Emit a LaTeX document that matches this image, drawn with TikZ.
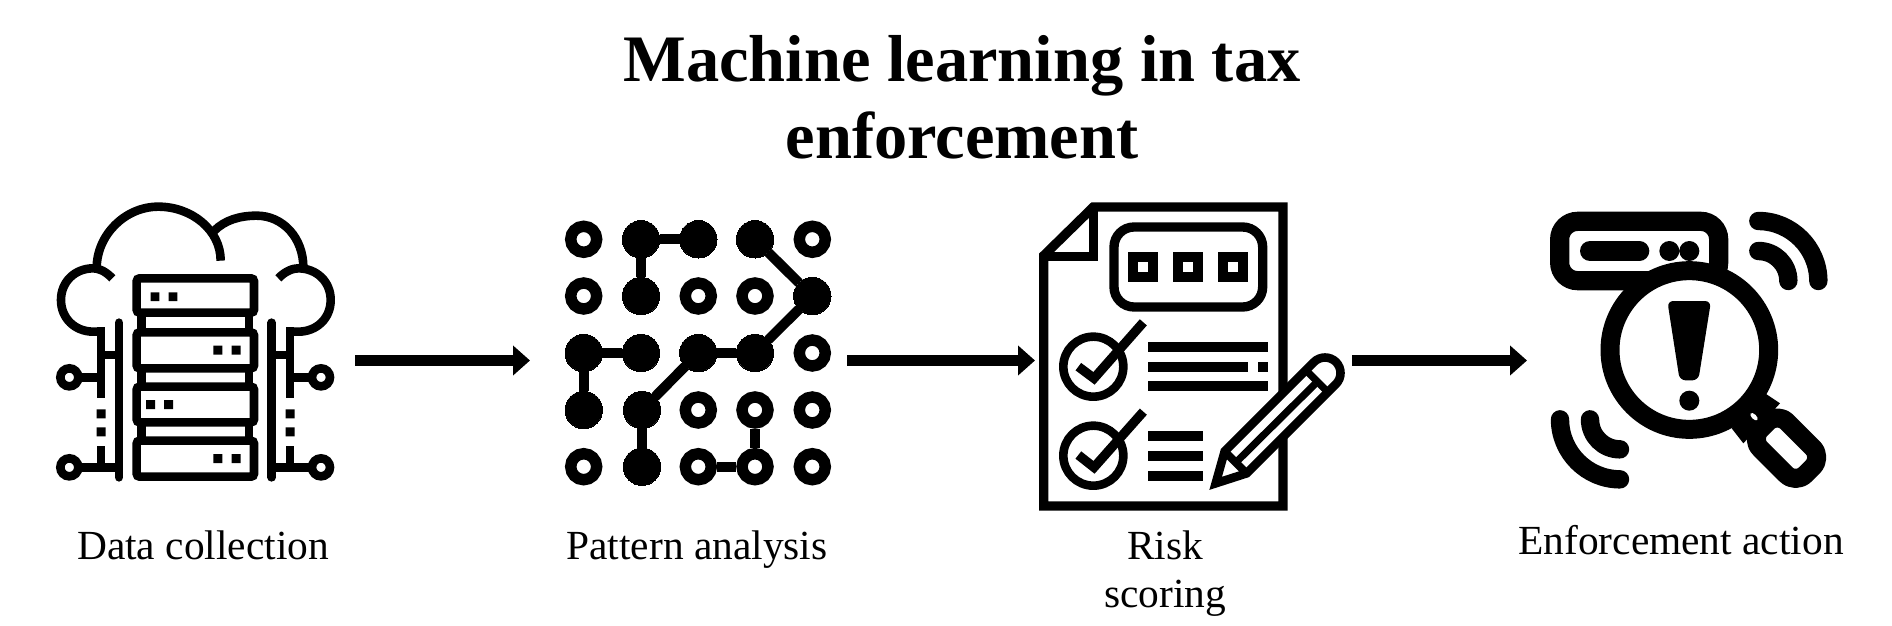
\documentclass[tikz,border=0pt]{standalone}
\usepackage{fontspec}
\setmainfont{Liberation Serif}
\usetikzlibrary{arrows.meta}
\tikzset{
  ink/.style={draw=black,line cap=butt,line join=miter},
  flow/.style={draw=black,line width=5.9pt,-{Triangle[length=8.5pt,width=14.5pt]}},
  lbl/.style={anchor=base,align=center,font=\fontsize{20.7}{24}\selectfont,inner sep=0pt},
  ttl/.style={anchor=base,font=\bfseries\fontsize{33.2}{38}\selectfont,inner sep=0pt},
  openc/.style={circle,draw=black,fill=white,line width=5.7pt,minimum size=13pt,inner sep=0pt},
  fullc/.style={circle,draw=black,fill=black,line width=0pt,minimum size=18.7pt,inner sep=0pt},
  link/.style={draw=black,line width=5pt},
  sq/.style={fill=black},
}
\begin{document}
\begin{tikzpicture}[x=0.5pt,y=-0.5pt]
\useasboundingbox (0,0) rectangle (1892,626);
% Title
\node[ttl] (t1) at (962,82) {Machine learning in tax};
\node[ttl] (t2) at (962,159) {enforcement};
% Labels
\node[lbl] (l1) at (203,559) {Data collection};
\node[lbl] (l2) at (697,559) {Pattern analysis};
\node[lbl] (l3a) at (1165,559) {Risk};
\node[lbl] (l3b) at (1165,607) {scoring};
\node[lbl] (l4) at (1681,554) {Enforcement action};
% Arrows
\coordinate (a1s) at (355,360.5); \coordinate (a1e) at (530,360.5);
\coordinate (a2s) at (847,360.5); \coordinate (a2e) at (1035,360.5);
\coordinate (a3s) at (1352,360.5); \coordinate (a3e) at (1527,360.5);
\draw[flow] (a1s) -- (a1e);
\draw[flow] (a2s) -- (a2e);
\draw[flow] (a3s) -- (a3e);

% ---------- Icon 1 : cloud + servers (origin 30,180, 3x)
\begin{scope}[shift={(30,180)},x=0.16667pt,y=-0.16667pt]
  \begin{scope}[ink,line width=4.3pt]
    \draw (335,398)--(335,457) (657,398)--(657,457);
    \draw (335,565)--(335,620) (657,565)--(657,620);
    \draw (335,727)--(335,782) (657,727)--(657,782);
    \draw[rounded corners=1.5pt] (320,295) -- (672,295) -- (672,398) -- (320,398) -- cycle;
    \draw[rounded corners=1.5pt] (320,457) -- (672,457) -- (672,565) -- (320,565) -- cycle;
    \draw[rounded corners=1.5pt] (320,620) -- (672,620) -- (672,727) -- (320,727) -- cycle;
    \draw[rounded corners=1.5pt] (320,782) -- (672,782) -- (672,890) -- (320,890) -- cycle;
    % cloud
    \draw (247,295) .. controls (225,272) and (205,265) .. (190,265)
          .. controls (135,265) and (93,305) .. (93,360)
          .. controls (93,415) and (135,455) .. (190,455) -- (213,455);
    \draw (200,265) .. controls (200,165) and (285,80) .. (385,80)
          .. controls (485,80) and (572,150) .. (572,242);
    \draw (553,152) .. controls (585,120) and (630,107) .. (680,107)
          .. controls (760,107) and (820,175) .. (820,262);
    \draw (745,295) .. controls (767,272) and (790,265) .. (805,265)
          .. controls (860,265) and (902,305) .. (902,360)
          .. controls (902,415) and (860,455) .. (805,455) -- (780,455);
    % left bus
    \draw[line cap=round] (267,428) -- (267,892);
    \draw (213,442) -- (213,655);
    \draw (213,525) -- (267,525);
    \draw (145,592) -- (213,592);
    \draw (213,798) -- (213,862);
    \draw (145,862) -- (267,862);
    % right bus
    \draw[line cap=round] (725,428) -- (725,892);
    \draw (780,442) -- (780,655);
    \draw (725,525) -- (780,525);
    \draw (780,592) -- (846,592);
    \draw (780,798) -- (780,862);
    \draw (725,862) -- (846,862);
    % terminals
    \draw (118,592) circle[radius=27];
    \draw (118,862) circle[radius=27];
    \draw (873,592) circle[radius=27];
    \draw (873,862) circle[radius=27];
  \end{scope}
  \fill[sq] (200,688) rectangle (227,715) (200,742) rectangle (227,769);
  \fill[sq] (767,688) rectangle (794,715) (767,742) rectangle (794,769);
  \fill[sq] (362,337) rectangle (388,363) (416,337) rectangle (442,363);
  \fill[sq] (550,497) rectangle (577,524) (605,497) rectangle (632,524);
  \fill[sq] (348,660) rectangle (375,687) (402,660) rectangle (429,687);
  \fill[sq] (550,822) rectangle (577,849) (605,822) rectangle (632,849);
\end{scope}

% ---------- Icon 2 : node grid (px coordinates)
\node[openc] (g00) at (583.7,239.3) {};
\node[fullc] (g10) at (641,239.3) {};
\node[fullc] (g20) at (698.3,239.3) {};
\node[fullc] (g30) at (755,239.3) {};
\node[openc] (g40) at (812.3,239.3) {};
\node[openc] (g01) at (583.7,296) {};
\node[fullc] (g11) at (641,296) {};
\node[openc] (g21) at (698.3,296) {};
\node[openc] (g31) at (755,296) {};
\node[fullc] (g41) at (812.3,296) {};
\node[fullc] (g02) at (583.7,353) {};
\node[fullc] (g12) at (641,353) {};
\node[fullc] (g22) at (698.3,353) {};
\node[fullc] (g32) at (755,353) {};
\node[openc] (g42) at (812.3,353) {};
\node[fullc] (g03) at (583.7,410) {};
\node[fullc] (g13) at (642,410) {};
\node[openc] (g23) at (698.3,410) {};
\node[openc] (g33) at (755,410) {};
\node[openc] (g43) at (812.3,410) {};
\node[openc] (g04) at (583.7,466.7) {};
\node[fullc] (g14) at (642,466.7) {};
\node[openc] (g24) at (698.3,466.7) {};
\node[openc] (g34) at (755,466.7) {};
\node[openc] (g44) at (812.3,466.7) {};
\draw[link] (g10)--(g20);
\draw[link] (g10)--(g11);
\draw[link] (g30)--(g41);
\draw[link] (g41)--(g32);
\draw[link] (g02)--(g12);
\draw[link] (g02)--(g03);
\draw[link] (g22)--(g32);
\draw[link] (g22)--(g13);
\draw[link] (g13)--(g14);
\draw[link] (g33)--(g34);
\draw[link] (g24)--(g34);

% ---------- Icon 3 : document (origin 1020,190, 3x)
\begin{scope}[shift={(1020,190)},x=0.16667pt,y=-0.16667pt]
  \begin{scope}[ink,line width=4.67pt]
    \draw (220,51) -- (789,51) -- (789,948) -- (71,948) -- (71,197) -- cycle;
    \draw (220,51) -- (220,200) -- (71,200);
    \draw[rounded corners=10pt] (282,111) rectangle (728,351);
  \end{scope}
  \draw[ink,line width=5pt] (340,201) rectangle (400,261);
  \draw[ink,line width=5pt] (474,201) rectangle (534,261);
  \draw[ink,line width=5pt] (609,201) rectangle (669,261);
  \begin{scope}[ink,line width=4.3pt]
    \draw (220,530) circle[radius=90];
    \draw (220,797) circle[radius=90];
  \end{scope}
  \begin{scope}[ink,line width=4.67pt]
    \draw (175,530) -- (222,565) -- (370,397);
    \draw (175,795) -- (222,832) -- (370,665);
  \end{scope}
  \begin{scope}[ink,line width=5pt]
    \draw (385,470) -- (744,470);
    \draw (385,530) -- (684,530);
    \draw (714,530) -- (744,530);
    \draw (385,589) -- (744,589);
    \draw (385,737) -- (549,737);
    \draw (385,797) -- (549,797);
    \draw (385,857) -- (549,857);
  \end{scope}
  % pencil
  \draw[draw=black,fill=white,line width=4.3pt,miter limit=10]
     (587,880) -- (614,784) -- (882,516)
     .. controls (900,498) and (930,498) .. (948,516)
     .. controls (966,534) and (966,564) .. (948,582)
     -- (680,850) -- cycle;
  \draw[ink,line width=3.6pt] (650,815) -- (885,582);
  \draw[ink,line width=3.6pt] (865,548) -- (922,605);
  \draw[ink,line width=4pt] (614,784) -- (680,850);
\end{scope}

% ---------- Icon 4 : magnifier (origin 1530,200, 3x)
\begin{scope}[shift={(1530,200)},x=0.16667pt,y=-0.16667pt]
  \draw[ink,line width=9.6pt,rounded corners=9pt] (89,64) rectangle (566,242);
  \draw[line width=10pt,line cap=round] (180,153) -- (328,153);
  \fill (418,153) circle[radius=30] (478,153) circle[radius=30];
  % handle
  \draw[draw=black,fill=white,line width=9.5pt,line join=round,rounded corners=6.7pt]
     (742,637) -- (877,772) -- (797,852) -- (662,717) -- cycle;
  \fill (705,580) -- (750,610) -- (640,730) -- (605,685) -- cycle;
  % lens
  \draw[ink,fill=white,line width=9.5pt] (478,450) circle[radius=238];
  \fill[white,rotate around={-45:(672,650)}] (672,650) ellipse[x radius=14,y radius=7];
  % exclamation
  \fill[rounded corners=3pt] (412,303) -- (543,303) -- (505,541) -- (449,541) -- cycle;
  \fill (478,602) circle[radius=30];
  % waves
  \begin{scope}[draw=black,line width=9.2pt,line cap=round]
    \draw (685,63) .. controls (784,63) and (865,144) .. (865,243);
    \draw (685,153) .. controls (735,153) and (775,193) .. (775,243);
    \draw (90,658) .. controls (90,757) and (171,838) .. (270,838);
    \draw (180,658) .. controls (180,708) and (220,748) .. (270,748);
  \end{scope}
\end{scope}
\end{tikzpicture}
\end{document}
